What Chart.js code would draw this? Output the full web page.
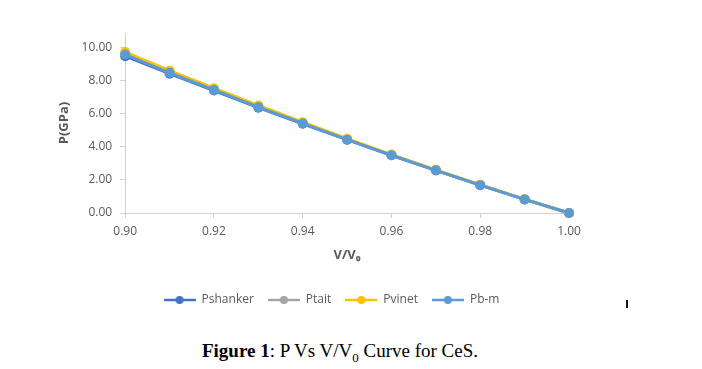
<!DOCTYPE html>
<html lang="en">
<head>
  <meta charset="UTF-8">
  <title>P Vs V/V0 Curve for CeS</title>
  <script src="https://cdn.jsdelivr.net/npm/chart.js"></script>
</head>
<body>

  <!-- Chart -->
  <div id="chart-container">
    <canvas id="pv-chart"></canvas>
  </div>

  <!-- Caption -->
  <div id="caption"><b>Figure 1</b>: P Vs V/V<sub>0</sub> Curve for CeS.</div>
  <div id="stray-mark"></div>

</body>
</html>
<style>
html, body {
  margin: 0;
  padding: 0;
  background: #fff;
}

#chart-container {
  position: absolute;
  left: 0;
  top: 0;
  width: 702px;
  height: 320px;
}

#caption {
  position: absolute;
  left: 0;
  top: 340px;
  width: 680px;
  text-align: center;
  font-family: "Liberation Serif", serif;
  font-size: 19px;
  line-height: 22px;
  color: #000;
}

#caption sub {
  font-size: 13px;
  line-height: 0;
}

#stray-mark {
  position: absolute;
  left: 626px;
  top: 300px;
  width: 2px;
  height: 8px;
  background: #111;
}
</style>
<script>
// V/V0 values
const volumeRatio = [0.90, 0.91, 0.92, 0.93, 0.94, 0.95, 0.96, 0.97, 0.98, 0.99, 1.00];

// Pressure (GPa) per model
const pShanker = [9.45, 8.40, 7.38, 6.35, 5.38, 4.42, 3.48, 2.57, 1.68, 0.82, 0.00];
const pTait    = [9.60, 8.50, 7.45, 6.42, 5.42, 4.45, 3.50, 2.58, 1.69, 0.82, 0.00];
const pVinet   = [9.70, 8.58, 7.52, 6.48, 5.47, 4.48, 3.52, 2.60, 1.70, 0.83, 0.00];
const pBm      = [9.55, 8.45, 7.42, 6.38, 5.40, 4.42, 3.48, 2.57, 1.68, 0.82, 0.00];

const seriesNames = ['Pshanker', 'Ptait', 'Pvinet', 'Pb-m'];
const seriesColors = ['#4472C4', '#A5A5A5', '#FFC000', '#5B9BD5'];

const xTicks = [0.90, 0.92, 0.94, 0.96, 0.98, 1.00];
const yTicks = [0, 2, 4, 6, 8, 10];

document.addEventListener('DOMContentLoaded', () => {
  const ctx = document.getElementById('pv-chart').getContext('2d');
  const textColor = '#595959';
  const axisColor = '#D0D0D0';

  // legend symbol: short line with a dot in the middle
  function legendSymbol(color) {
    const c = document.createElement('canvas');
    c.width = 32;
    c.height = 10;
    const g = c.getContext('2d');
    g.strokeStyle = color;
    g.lineWidth = 2.5;
    g.beginPath();
    g.moveTo(0, 5);
    g.lineTo(32, 5);
    g.stroke();
    g.fillStyle = color;
    g.beginPath();
    g.arc(16, 5, 4, 0, Math.PI * 2);
    g.fill();
    return c;
  }

  const allSeries = [pShanker, pTait, pVinet, pBm];
  const datasets = allSeries.map((values, i) => ({
    label: seriesNames[i],
    data: values.map((y, j) => ({ x: volumeRatio[j], y })),
    borderColor: seriesColors[i],
    backgroundColor: seriesColors[i],
    borderWidth: 3,
    pointRadius: 5,
    pointBorderWidth: 0,
    pointStyle: 'circle',
    clip: false,
    legendImage: legendSymbol(seriesColors[i]),
    order: seriesNames.length - i   // last series drawn on top, like Excel
  }));

  // legend sits a little right of the plot centre in the original
  const legendShift = {
    id: 'legendShift',
    afterLayout(chart) {
      chart.legend.left += 19;
      chart.legend.right += 19;
    }
  };

  new Chart(ctx, {
    type: 'line',
    data: { datasets },
    plugins: [legendShift],
    options: {
      responsive: true,
      maintainAspectRatio: false,
      animation: false,
      layout: { padding: { left: 56, right: 133, top: 33, bottom: 4 } },
      plugins: {
        tooltip: { enabled: false },
        legend: {
          position: 'bottom',
          labels: {
            color: textColor,
            font: { family: 'Open Sans', size: 12 },
            usePointStyle: true,
            pointStyleWidth: 32,
            padding: 14,
            generateLabels: chart => chart.data.datasets.map((ds, i) => ({
              text: ds.label,
              datasetIndex: i,
              fontColor: textColor,
              pointStyle: ds.legendImage,
              hidden: false,
              lineWidth: 0,
              strokeStyle: ds.borderColor,
              fillStyle: ds.borderColor
            }))
          }
        }
      },
      scales: {
        x: {
          type: 'linear',
          min: 0.90,
          max: 1.00,
          afterBuildTicks: axis => { axis.ticks = xTicks.map(v => ({ value: v })); },
          ticks: {
            color: textColor,
            font: { family: 'Open Sans', size: 12 },
            callback: v => v.toFixed(2),
            padding: 6
          },
          grid: { drawOnChartArea: false, color: axisColor, tickLength: 5 },
          border: { color: axisColor },
          title: {
            display: true,
            text: 'V/V\u2080',
            color: textColor,
            font: { family: 'Open Sans', size: 13, weight: 'bold' },
            padding: { top: 3, bottom: 17 }
          }
        },
        y: {
          min: 0,
          max: 10.85,
          afterBuildTicks: axis => { axis.ticks = yTicks.map(v => ({ value: v })); },
          ticks: {
            color: textColor,
            font: { family: 'Open Sans', size: 12 },
            callback: v => v.toFixed(2),
            padding: 8
          },
          grid: { drawOnChartArea: false, color: axisColor, tickLength: 5 },
          border: { color: axisColor },
          title: {
            display: true,
            text: 'P(GPa)',
            color: textColor,
            font: { family: 'Open Sans', size: 13, weight: 'bold' },
            padding: { top: 0, bottom: 2 }
          }
        }
      }
    }
  });
});
</script>
